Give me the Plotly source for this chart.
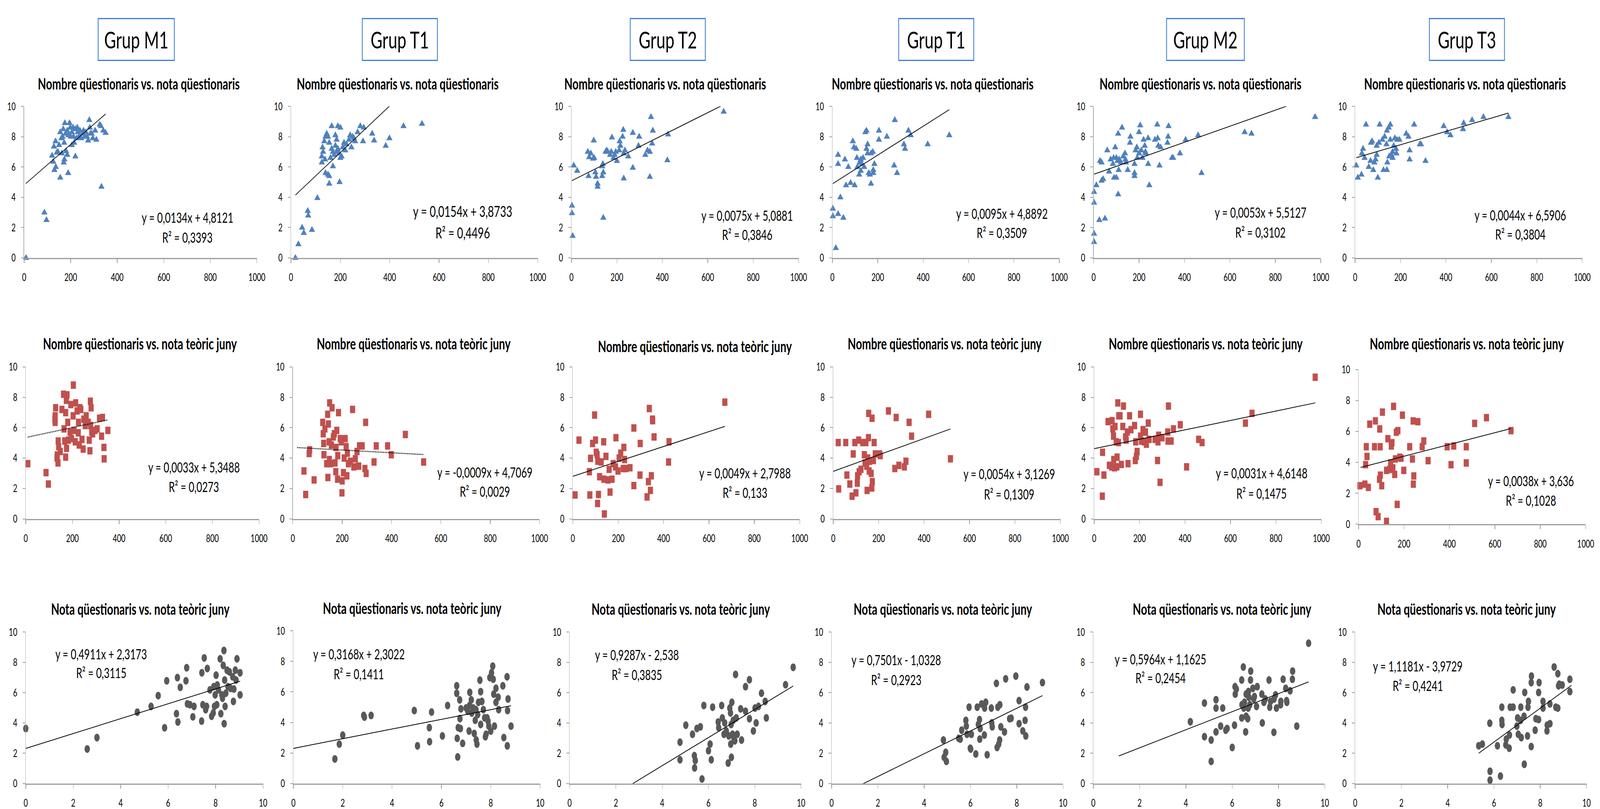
import plotly.graph_objects as go

W, H = 5927, 2070
FONT = "Lato, Roboto, sans-serif"

# ---------------- text data ----------------
groups = ["Grup M1", "Grup T1", "Grup T2", "Grup T1", "Grup M2", "Grup T3"]
row_titles = [
    "Nombre qüestionaris vs. nota qüestionaris",
    "Nombre qüestionaris vs. nota teòric juny",
    "Nota qüestionaris vs. nota teòric juny",
]
eq_r1 = ["y = 0,0134x + 4,8121", "y = 0,0154x + 3,8733", "y = 0,0075x + 5,0881",
         "y = 0,0095x + 4,8892", "y = 0,0053x + 5,5127", "y = 0,0044x + 6,5906"]
r2_r1 = ["0,3393", "0,4496", "0,3846", "0,3509", "0,3102", "0,3804"]
eq_r2 = ["y = 0,0033x + 5,3488", "y = -0,0009x + 4,7069", "y = 0,0049x + 2,7988",
         "y = 0,0054x + 3,1269", "y = 0,0031x + 4,6148", "y = 0,0038x + 3,636"]
r2_r2 = ["0,0273", "0,0029", "0,133", "0,1309", "0,1475", "0,1028"]
eq_r3 = ["y = 0,4911x + 2,3173", "y = 0,3168x + 2,3022", "y = 0,9287x - 2,538",
         "y = 0,7501x - 1,0328", "y = 0,5964x + 1,1625", "y = 1,1181x - 3,9729"]
r2_r3 = ["0,3115", "0,1411", "0,3835", "0,2923", "0,2454", "0,4241"]

# trendline coefficients (slope, intercept) and x extent
slope_r1 = [0.0134, 0.0154, 0.0075, 0.0095, 0.0053, 0.0044]
icpt_r1 = [4.8121, 3.8733, 5.0881, 4.8892, 5.5127, 6.5906]
slope_r2 = [0.0033, -0.0009, 0.0049, 0.0054, 0.0031, 0.0038]
icpt_r2 = [5.3488, 4.7069, 2.7988, 3.1269, 4.6148, 3.636]
slope_r3 = [0.4911, 0.3168, 0.9287, 0.7501, 0.5964, 1.1181]
icpt_r3 = [2.3173, 2.3022, -2.538, -1.0328, 1.1625, -3.9729]
tx_r1 = [(7, 350), (18, 531), (2, 670), (2, 515), (2, 975), (5, 675)]
tx_r2 = [(9, 352), (18, 531), (0, 670), (0, 516), (0, 973), (9, 671)]
tx_r3 = [(0, 9.03), (0, 8.82), (0, 9.66), (0, 9.11), (1.1, 9.3), (5.34, 9.35)]

# ---------------- point data ----------------
# Row 1: nombre qüestionaris (x) vs nota qüestionaris (y)
q_m1 = [(8,0),(87,3.0),(96,2.5),(332,4.7),(155,5.3),(189,5.6),(130,5.8),(136,6.0),(125,6.35),(120,6.75),
        (170,6.3),(173,6.5),(220,6.7),(185,6.8),(180,7.05),(140,6.95),(128,7.35),(135,7.7),(150,7.45),(155,8.3),
        (165,8.0),(175,8.9),(195,8.9),(210,8.6),(200,8.0),(205,7.45),(215,7.6),(230,8.3),(235,8.0),(240,8.4),
        (250,8.2),(260,8.0),(275,7.75),(280,9.1),(282,8.6),(290,8.2),(305,8.4),(310,7.8),(325,8.8),(330,8.7),
        (340,8.4),(350,8.25),(160,7.9),(168,8.5),(172,7.6),(178,8.2),(185,8.4),(190,8.1),(198,8.6),(205,8.3),
        (212,8.0),(220,8.5),(225,7.9),(228,8.6),(245,7.9),(255,8.4),(265,8.3),(270,8.0),(285,8.2),(295,7.9),
        (145,7.0),(162,6.9)]
q_t1 = [(18,0),(30,0.9),(45,2.0),(52,1.65),(85,1.85),(68,3.1),(70,2.8),(107,3.95),(155,4.9),(197,5.0),
        (140,5.6),(150,5.5),(155,5.4),(170,6.05),(125,6.3),(125,6.7),(130,7.0),(128,7.3),(135,7.7),(140,8.0),
        (145,8.2),(165,8.7),(190,8.7),(200,8.6),(155,7.6),(165,7.2),(170,7.0),(175,6.8),(180,7.4),(185,7.8),
        (190,7.2),(195,6.9),(200,6.6),(205,6.7),(210,7.3),(220,7.1),(225,7.5),(235,7.8),(240,8.1),(245,7.3),
        (255,7.9),(260,7.7),(270,8.3),(281,8.7),(295,8.6),(292,7.7),(329,8.2),(337,7.75),(384,7.4),(399,7.9),
        (456,8.7),(531,8.85),(150,8.0),(160,6.6),(185,7.0),(215,7.6),(250,8.0),(138,6.5),(180,8.1)]
q_t2 = [(2,3.45),(2,2.95),(5,1.45),(10,6.1),(25,5.75),(75,5.4),(72,7.0),(78,6.65),(85,6.9),(95,6.55),
        (100,6.6),(98,7.75),(105,5.65),(108,5.35),(115,4.9),(115,4.7),(135,5.4),(140,5.65),(135,6.05),(138,6.2),
        (150,7.0),(155,7.1),(160,7.0),(170,6.8),(175,7.0),(178,7.95),(185,6.6),(190,6.8),(195,7.0),(200,6.4),
        (210,7.1),(212,7.7),(215,7.4),(225,8.0),(228,8.45),(230,6.9),(235,7.1),(230,5.25),(250,6.7),(270,8.25),
        (270,5.95),(295,7.4),(298,8.0),(325,6.8),(335,7.1),(345,7.0),(345,5.35),(350,9.3),(355,7.55),(358,8.4),
        (425,8.15),(422,6.45),(140,2.65),(670,9.65)]
q_t1b = [(2,3.25),(2,2.75),(15,0.65),(25,2.9),(48,2.65),(35,4.0),(25,6.2),(25,6.8),(55,6.5),(60,4.8),
         (70,6.0),(80,4.95),(90,7.7),(95,7.3),(98,4.8),(105,7.2),(108,6.6),(110,6.0),(118,5.5),(120,6.3),
         (125,6.5),(125,5.75),(130,6.2),(135,6.6),(140,6.0),(145,8.3),(150,8.4),(150,7.2),(155,7.5),(155,6.9),
         (160,5.6),(165,5.5),(170,4.9),(170,6.9),(178,7.0),(185,6.2),(180,5.8),(180,5.6),(205,8.4),(205,7.8),
         (240,8.0),(275,9.1),(272,6.1),(285,5.6),(315,7.5),(320,7.2),(335,8.4),(345,8.1),(420,7.5),(515,8.1)]
q_m2 = [(2,1.05),(2,1.6),(2,3.65),(2,4.35),(12,4.8),(25,2.5),(50,2.6),(28,6.4),(35,6.3),(35,5.1),
        (42,5.2),(60,7.1),(68,5.7),(75,6.5),(85,6.2),(88,6.6),(95,7.3),(90,5.3),(100,5.3),(100,6.6),
        (105,6.4),(108,4.2),(108,8.2),(110,5.8),(112,6.5),(120,6.3),(125,8.6),(130,6.7),(138,6.9),(140,6.5),
        (142,6.3),(150,5.8),(160,7.6),(162,8.0),(180,6.2),(180,5.6),(180,5.4),(185,7.1),(190,7.3),(192,6.6),
        (200,6.9),(200,8.3),(205,8.75),(210,7.1),(215,6.6),(220,7.8),(225,7.4),(228,7.0),(230,6.9),(240,7.9),
        (240,6.2),(245,4.8),(270,7.8),(280,8.8),(282,7.9),(285,7.4),(295,7.3),(290,6.1),(325,7.6),(328,8.0),
        (330,8.7),(345,6.6),(350,6.6),(380,6.9),(405,7.8),(460,8.1),(475,5.6),(665,8.3),(695,8.2),(975,9.3)]
q_t3 = [(5,6.1),(12,5.3),(28,5.5),(30,6.9),(35,7.2),(42,6.6),(48,8.8),(60,6.0),(68,6.4),(70,7.6),
        (75,7.7),(80,5.8),(85,6.3),(90,6.5),(95,6.8),(95,7.4),(100,5.3),(105,7.6),(108,8.8),(120,7.8),
        (125,5.8),(130,8.0),(140,8.4),(138,7.5),(140,5.8),(142,6.3),(148,8.6),(150,6.7),(155,8.8),(155,7.8),
        (160,6.8),(165,7.0),(165,6.6),(170,7.4),(175,7.9),(180,7.2),(182,6.9),(185,7.8),(195,7.8),(225,8.2),
        (235,8.0),(240,7.1),(240,6.5),(260,8.8),(285,7.5),(290,7.5),(310,6.4),(390,8.7),(405,8.3),(420,8.1),
        (475,8.5),(478,8.9),(515,9.1),(565,9.3),(675,9.3)]

# Row 2: nombre qüestionaris (x) vs nota teòric juny (y)
t_m1 = [(9,3.63),(87,3.04),(97,2.29),(128,7.31),(126,6.78),(125,6.56),(126,6.35),(138,3.68),(135,4.2),(134,4.0),
        (141,4.75),(139,5.12),(148,4.43),(155,7.2),(162,8.2),(164,5.92),(167,5.12),(171,4.06),(171,6.99),(174,7.8),
        (175,4.64),(177,8.16),(180,6.35),(183,5.18),(190,5.71),(193,7.52),(196,5.28),(204,8.8),(203,6.78),(207,5.82),
        (212,5.07),(214,7.63),(220,7.1),(225,5.66),(226,6.35),(229,4.86),(232,7.31),(236,7.2),(241,5.23),(246,4.59),
        (249,6.56),(255,6.14),(259,6.78),(268,6.35),(272,5.18),(275,4.48),(277,7.74),(278,6.14),(280,7.31),(283,5.71),
        (287,5.6),(297,5.82),(306,5.92),(316,6.62),(325,5.44),(329,6.67),(335,4.7),(336,3.95),(352,5.82)]
t_t1 = [(45,3.15),(52,1.6),(68,4.54),(66,4.3),(86,2.56),(121,6.35),(123,5.6),(125,4.96),(126,4.22),(130,5.92),
        (137,3.63),(141,6.88),(142,2.72),(144,6.24),(147,5.07),(148,3.9),(149,7.63),(153,3.63),(156,4.86),(159,7.31),
        (164,5.39),(168,5.6),(171,3.68),(174,3.1),(175,4.7),(178,5.82),(181,2.61),(182,4.16),(185,6.99),(192,5.28),
        (196,5.07),(199,1.71),(200,2.5),(205,3.04),(208,4.0),(212,5.28),(216,4.75),(219,2.83),(221,4.32),(225,3.63),
        (233,3.79),(242,7.2),(247,3.42),(253,3.95),(260,4.43),(267,3.47),(270,4.8),(281,4.8),(292,3.31),(295,6.35),
        (297,2.99),(329,3.74),(338,4.8),(384,4.8),(399,4.22),(456,5.55),(530,3.74)]
t_t2 = [(10,1.57),(27,5.18),(73,3.1),(75,1.57),(78,3.98),(87,4.96),(96,6.83),(100,5.18),(103,4.38),(107,4.22),
        (109,1.01),(110,3.79),(113,1.6),(118,2.77),(125,3.74),(136,5.07),(137,2.61),(139,0.32),(146,4.11),(155,2.56),
        (160,3.26),(164,1.76),(173,2.61),(178,3.63),(188,3.42),(190,5.34),(199,3.15),(204,4.0),(211,4.32),(222,3.31),
        (225,4.7),(228,3.9),(234,3.31),(252,3.36),(269,5.98),(269,2.19),(296,2.88),(297,4.96),(327,1.44),(333,2.45),
        (337,7.26),(342,1.87),(346,2.83),(351,6.56),(352,6.46),(358,5.39),(422,3.74),(424,5.07),(670,7.68)]
t_t1b = [(22,5.02),(24,1.97),(55,5.02),(60,2.88),(73,2.29),(83,1.49),(88,4.27),(95,5.02),(100,1.71),(106,2.35),
         (107,2.83),(112,5.18),(114,3.1),(122,3.26),(130,5.02),(137,4.22),(140,3.68),(144,5.02),(147,3.47),(149,1.87),
         (152,4.0),(155,5.34),(156,6.94),(158,3.15),(160,3.79),(167,2.99),(170,2.03),(171,6.62),(172,2.45),(177,3.84),
         (180,5.02),(185,4.27),(204,4.27),(207,4.16),(243,7.1),(271,3.31),(277,6.67),(289,3.52),(313,3.42),(320,3.79),
         (334,6.35),(345,5.44),(420,6.88),(516,3.95)]
t_m2 = [(12,3.1),(36,1.49),(37,4.38),(43,2.88),(61,6.4),(67,3.52),(77,3.42),(79,6.46),(82,5.92),(85,5.44),
        (86,3.9),(89,3.36),(92,6.08),(97,5.07),(100,3.42),(101,4.06),(104,7.63),(107,5.02),(108,6.78),(114,6.78),
        (120,3.58),(126,6.08),(129,7.42),(138,5.39),(141,5.18),(146,5.71),(149,3.63),(156,6.78),(162,5.87),(178,6.14),
        (181,3.84),(186,4.11),(189,4.43),(183,5.07),(204,6.88),(204,5.44),(208,5.12),(215,5.87),(220,5.07),(226,5.71),
        (230,4.91),(238,6.3),(242,5.23),(268,5.23),(279,3.84),(281,5.07),(284,5.5),(290,2.4),(299,5.34),(324,5.71),
        (327,7.42),(325,5.12),(339,5.12),(349,5.92),(379,6.19),(407,3.42),(460,5.23),(475,5.02),(666,6.3),(695,6.94),
        (973,9.32)]
t_t3 = [(6,2.49),(28,2.59),(31,3.85),(34,5.01),(37,4.38),(43,2.38),(49,6.47),(70,5.01),(74,6.68),(77,0.81),
        (86,0.49),(93,6.16),(95,5.01),(92,2.91),(96,3.17),(102,2.49),(105,7.25),(123,0.18),(123,3.48),(129,5.53),
        (136,3.54),(141,3.96),(144,5.06),(147,5.27),(151,3.64),(154,7.62),(159,3.22),(162,4.22),(166,5.95),(170,1.28),
        (173,6.05),(181,4.33),(187,4.27),(193,7.05),(199,3.48),(225,5.01),(237,4.22),(240,6.68),(241,2.59),(243,3.12),
        (261,6.63),(280,5.01),(287,5.38),(306,4.11),(390,5.01),(407,3.85),(419,5.06),(474,5.01),(474,3.96),(511,6.52),
        (563,6.89),(671,6.05)]

# Row 3: nota qüestionaris (x) vs nota teòric juny (y)
n_m1 = [(0,3.63),(2.59,2.28),(3.0,3.03),(4.7,4.71),(5.28,5.09),(5.58,5.8),(5.85,3.68),(5.94,6.78),(6.35,4.61),(6.39,6.99),
        (6.41,4.06),(6.51,6.35),(6.75,6.78),(6.78,7.64),(6.81,5.26),(6.92,5.2),(7.04,4.4),(7.09,5.09),(7.41,4.12),(7.42,7.31),
        (7.46,5.2),(7.52,8.29),(7.58,4.87),(7.62,5.09),(7.65,7.59),(7.76,6.18),(7.83,4.44),(7.9,4.66),(7.92,6.39),(7.95,5.09),
        (7.98,5.85),(8.02,7.15),(8.05,5.2),(8.07,6.5),(8.12,6.18),(8.19,8.23),(8.22,4.61),(8.26,5.85),(8.29,5.63),(8.32,7.8),
        (8.35,8.78),(8.36,3.95),(8.38,6.83),(8.4,5.09),(8.43,5.96),(8.48,7.48),(8.52,6.39),(8.58,7.37),(8.63,6.28),(8.72,7.04),
        (8.75,5.42),(8.77,6.23),(8.83,7.48),(8.86,6.83),(8.9,8.23),(9.03,7.31),(9.03,5.85)]
n_t1 = [(1.68,1.61),(1.86,2.58),(2.0,3.17),(2.85,4.46),(2.88,4.35),(3.15,4.46),(4.9,4.78),(5.03,2.47),(5.51,3.66),(5.52,2.74),
        (5.6,4.68),(6.04,3.12),(6.25,5.11),(6.62,6.4),(6.62,5.91),(6.64,2.96),(6.66,1.74),(6.68,3.66),(6.74,5.48),(6.75,4.25),
        (6.77,3.6),(6.79,4.89),(6.86,2.63),(7.0,4.95),(7.07,4.73),(7.12,3.44),(7.14,5.11),(7.15,5.97),(7.21,5.48),(7.23,4.62),
        (7.29,4.95),(7.33,3.28),(7.37,4.14),(7.4,4.84),(7.41,2.85),(7.44,2.58),(7.47,4.52),(7.5,5.32),(7.56,6.77),(7.59,6.02),
        (7.59,3.87),(7.64,5.38),(7.7,4.84),(7.75,4.3),(7.78,3.06),(7.81,3.23),(7.85,4.3),(7.89,4.09),(7.92,3.76),(7.96,6.94),
        (8.0,3.44),(8.03,7.26),(8.08,7.69),(8.1,6.83),(8.12,5.86),(8.15,3.76),(8.21,6.24),(8.21,5.32),(8.3,5.65),(8.32,4.84),
        (8.49,6.4),(8.53,3.01),(8.66,6.99),(8.67,2.47),(8.68,4.78),(8.7,5.54),(8.82,3.76)]
n_t2 = [(4.77,2.73),(4.77,1.57),(5.02,3.85),(5.31,3.25),(5.4,1.03),(5.43,1.52),(5.39,1.84),(5.5,3.63),(5.65,3.74),(5.72,0.3),
        (5.8,5.15),(6.0,2.17),(6.07,2.6),(6.12,1.57),(6.18,5.04),(6.42,4.06),(6.44,3.68),(6.57,5.15),(6.6,4.33),(6.67,3.25),
        (6.7,4.0),(6.77,3.47),(6.85,1.35),(6.88,3.14),(6.92,4.98),(6.95,4.66),(6.96,2.6),(6.98,3.9),(6.99,1.73),(7.01,5.36),
        (7.04,3.25),(7.07,4.17),(7.1,2.98),(7.14,2.82),(7.17,7.2),(7.2,4.33),(7.24,3.25),(7.39,4.93),(7.43,2.87),(7.6,4.77),
        (7.6,6.39),(7.77,6.85),(7.77,4.28),(7.94,3.47),(8.01,4.98),(8.06,4.0),(8.16,5.09),(8.29,5.96),(8.45,5.42),(8.5,4.33),
        (9.33,6.52),(9.66,7.67)]
n_t1b = [(4.83,2.87),(4.86,1.73),(4.93,2.06),(4.96,1.46),(5.49,2.98),(5.56,2.93),(5.62,3.52),(5.8,4.17),(5.82,3.79),(5.85,3.25),
         (5.94,5.04),(5.99,2.33),(6.01,2.28),(6.04,3.25),(6.23,1.95),(6.29,5.04),(6.34,3.9),(6.39,4.22),(6.4,2.93),(6.42,3.63),
         (6.48,5.25),(6.6,3.2),(6.61,4.98),(6.66,5.36),(6.72,1.9),(6.9,4.98),(6.92,4.0),(6.94,3.74),(7.12,6.61),(7.15,2.38),
         (7.18,5.04),(7.22,2.6),(7.26,2.87),(7.27,5.2),(7.31,3.74),(7.47,3.41),(7.52,6.91),(7.69,4.28),(7.76,4.31),(7.96,7.09),
         (8.1,3.95),(8.1,5.47),(8.26,3.47),(8.36,4.17),(8.38,5.04),(8.39,3.14),(8.44,6.37),(9.11,6.66)]
n_m2 = [(4.19,4.08),(4.8,5.31),(4.8,3.09),(5.09,2.87),(5.09,1.46),(5.3,5.53),(5.3,4.98),(5.3,3.41),(5.5,3.79),(5.59,4.98),
        (5.72,3.52),(5.78,3.63),(6.0,2.38),(6.1,3.85),(6.12,6.39),(6.13,5.9),(6.18,6.23),(6.41,4.33),(6.41,6.83),(6.42,5.2),
        (6.48,7.69),(6.5,4.98),(6.53,5.36),(6.58,3.41),(6.6,4.44),(6.6,5.9),(6.67,4.28),(6.69,4.98),(6.7,6.07),(6.72,5.69),
        (6.76,5.2),(6.79,6.83),(6.8,7.42),(6.89,6.28),(6.93,5.58),(6.96,5.74),(7.05,5.09),(7.08,6.39),(7.28,5.9),(7.3,4.0),
        (7.37,5.36),(7.43,5.58),(7.59,6.83),(7.62,5.04),(7.66,5.42),(7.8,3.38),(7.81,5.58),(7.87,5.85),(7.91,4.98),(8.09,5.2),
        (8.1,5.42),(8.2,6.88),(8.31,6.28),(8.35,5.47),(8.36,5.36),(8.5,6.12),(8.6,6.88),(8.61,7.42),(8.79,3.79),(9.3,9.26)]
n_t3 = [(5.34,2.49),(5.5,2.6),(5.82,3.98),(5.83,0.81),(5.83,0.22),(6.15,2.49),(6.28,0.49),(6.34,5.04),(6.34,4.17),(6.35,3.9),
        (6.51,2.55),(6.53,2.93),(6.66,2.33),(6.67,3.2),(6.7,5.04),(6.83,6.18),(6.83,5.04),(6.99,3.79),(7.02,4.33),(7.05,3.25),
        (7.15,4.17),(7.16,5.04),(7.18,3.03),(7.3,4.44),(7.31,1.27),(7.33,6.01),(7.45,3.14),(7.47,5.04),(7.49,5.42),(7.61,2.44),
        (7.61,6.66),(7.62,7.09),(7.78,3.52),(7.81,4.28),(7.93,4.22),(7.93,6.01),(7.95,6.66),(8.12,5.42),(8.12,4.98),(8.29,3.47),
        (8.3,3.85),(8.42,3.95),(8.42,5.25),(8.6,7.69),(8.67,5.04),(8.76,7.25),(8.76,4.98),(8.79,6.45),(8.82,6.55),(8.95,6.5),
        (9.28,6.88),(9.28,6.07)]

row1_pts = [q_m1, q_t1, q_t2, q_t1b, q_m2, q_t3]
row2_pts = [t_m1, t_t1, t_t2, t_t1b, t_m2, t_t3]
row3_pts = [n_m1, n_t1, n_t2, n_t1b, n_m2, n_t3]

# ---------------- geometry (pixels) ----------------
geom = [
    [(82, 950, 259, 654), (1077, 1997, 259, 654), (2123, 2970, 259, 654),
     (3096, 3942, 259, 654), (4070, 4917, 259, 654), (5045, 5892, 259, 654)],
    [(88, 958, 938, 1334), (1084, 2004, 938, 1334), (2128, 2974, 938, 1334),
     (3099, 3946, 938, 1334), (4072, 4919, 938, 1334), (5058, 5905, 945, 1348)],
    [(88, 973, 1629, 2024), (1086, 2006, 1626, 2024), (2116, 2979, 1629, 2024),
     (3093, 3956, 1629, 2024), (4069, 4932, 1629, 2024), (5045, 5908, 1629, 2024)],
]
eq_pos = [
    [(691, 548, 600), (1717, 532, 588), (2778, 543, 593), (3728, 538, 588), (4692, 535, 587), (5661, 542, 592)],
    [(715, 1199, 1250), (1800, 1212, 1262), (2770, 1214, 1265), (3755, 1216, 1269), (4696, 1214, 1267), (5701, 1235, 1286)],
    [(369, 1686, 1735), (1330, 1686, 1738), (2367, 1688, 1740), (3334, 1701, 1753), (4319, 1699, 1748), (5279, 1718, 1768)],
]
title_pos = [
    [(509, 200), (1475, 200), (2472, 200), (3470, 200), (4468, 200), (5455, 200)],
    [(514, 877), (1535, 877), (2584, 884), (3515, 877), (4488, 877), (5461, 877)],
    [(515, 1569), (1529, 1567), (2531, 1569), (3508, 1569), (4549, 1569), (5461, 1569)],
]
header_pos = [(500, 85), (1483, 85), (2482, 85), (3483, 85), (4487, 85), (5462, 85)]
header_w = [284, 280, 280, 280, 290, 280]
HEAD_TOP, HEAD_BOT = 30, 139

row_style = [
    dict(symbol="triangle-up", color="#4F81BD", size=20),
    dict(symbol="square", color="#C0504D", size=19),
    dict(symbol="circle", color="#595959", size=20),
]
row_xr = [[0, 1000], [0, 1000], [0, 10]]
row_xtick = [200, 200, 2]
eqs = [eq_r1, eq_r2, eq_r3]
r2s = [r2_r1, r2_r2, r2_r3]
slopes = [slope_r1, slope_r2, slope_r3]
icpts = [icpt_r1, icpt_r2, icpt_r3]
txs = [tx_r1, tx_r2, tx_r3]
pts = [row1_pts, row2_pts, row3_pts]


def px(x):
    return x / W


def py(y):
    return 1 - y / H


fig = go.Figure()
layout = dict(
    width=W, height=H, margin=dict(l=0, r=0, t=0, b=0),
    paper_bgcolor="white", plot_bgcolor="white", showlegend=False,
    font=dict(family=FONT, color="black"),
)
annotations = []
shapes = []

k = 0
for r in range(3):
    for c in range(6):
        k += 1
        xa = "x" if k == 1 else f"x{k}"
        ya = "y" if k == 1 else f"y{k}"
        xkey = "xaxis" if k == 1 else f"xaxis{k}"
        ykey = "yaxis" if k == 1 else f"yaxis{k}"
        x0, x1, yt, yb = geom[r][c]
        layout[xkey] = dict(
            domain=[px(x0), px(x1)], anchor=ya, range=row_xr[r], dtick=row_xtick[r], tick0=0,
            showgrid=False, zeroline=False, showline=True, linecolor="#9C9C9C", linewidth=3,
            ticks="outside", ticklen=10, tickwidth=2, tickcolor="#9C9C9C",
            tickfont=dict(family=FONT, size=27, color="black"), ticklabelstandoff=14,
            fixedrange=True,
        )
        layout[ykey] = dict(
            domain=[py(yb), py(yt)], anchor=xa, range=[0, 10], dtick=2, tick0=0,
            showgrid=False, zeroline=False, showline=True, linecolor="#B0B0B0", linewidth=2,
            ticks="outside", ticklen=10, tickwidth=2, tickcolor="#9C9C9C",
            tickfont=dict(family=FONT, size=27, color="black"), ticklabelstandoff=14,
            fixedrange=True,
        )
        data = pts[r][c]
        st = row_style[r]
        fig.add_trace(go.Scatter(
            x=[p[0] for p in data], y=[p[1] for p in data], mode="markers",
            marker=dict(symbol=st["symbol"], color=st["color"], size=st["size"], line=dict(width=0)),
            cliponaxis=False, xaxis=xa, yaxis=ya, hoverinfo="skip",
        ))
        ta, tb = txs[r][c]
        m, b = slopes[r][c], icpts[r][c]
        dotted = (r == 1 and c in (0, 1))
        fig.add_trace(go.Scatter(
            x=[ta, tb], y=[m * ta + b, m * tb + b], mode="lines",
            line=dict(color="black", width=3 if dotted else 2, dash="dot" if dotted else "solid"),
            xaxis=xa, yaxis=ya, hoverinfo="skip",
        ))
        cx, ey, ry = eq_pos[r][c]
        fs = 39 if (r == 0 and c == 1) else 36
        annotations.append(dict(x=px(cx), y=py(ey), xref="paper", yref="paper", text=eqs[r][c],
                                showarrow=False, xanchor="center", yanchor="middle",
                                font=dict(family=FONT, size=fs, color="black")))
        annotations.append(dict(x=px(cx), y=py(ry), xref="paper", yref="paper",
                                text="R² = " + r2s[r][c],
                                showarrow=False, xanchor="center", yanchor="middle",
                                font=dict(family=FONT, size=fs, color="black")))
        tx, ty = title_pos[r][c]
        annotations.append(dict(x=px(tx), y=py(ty), xref="paper", yref="paper",
                                text=row_titles[r], showarrow=False,
                                xanchor="center", yanchor="middle",
                                font=dict(family=FONT, size=40, color="black", weight=700)))

for g, (hx, hy), hw in zip(groups, header_pos, header_w):
    shapes.append(dict(type="rect", xref="paper", yref="paper",
                       x0=px(hx - hw / 2), x1=px(hx + hw / 2), y0=py(HEAD_BOT), y1=py(HEAD_TOP),
                       line=dict(color="#3B7DD8", width=3), fillcolor="rgba(0,0,0,0)"))
    annotations.append(dict(x=px(hx), y=py(hy), xref="paper", yref="paper", text=g,
                            showarrow=False, xanchor="center", yanchor="middle",
                            font=dict(family=FONT, size=60, color="black")))

layout["annotations"] = annotations
layout["shapes"] = shapes
fig.update_layout(**layout)

# Fit the fixed 5927x2070 figure exactly onto whatever CSS viewport the browser reports
post_js = """
(function(){
  var gd = document.getElementById('{plot_id}');
  document.documentElement.style.margin = '0';
  document.body.style.margin = '0';
  document.body.style.padding = '0';
  var vw = window.innerWidth, vh = window.innerHeight;
  var sx = vw / %d, sy = vh / %d;
  var p = gd.parentElement;
  p.style.margin = '0';
  if (Math.abs(sx - 1) > 0.002 || Math.abs(sy - 1) > 0.002) {
    document.documentElement.style.overflow = 'hidden';
    document.body.style.overflow = 'hidden';
    p.style.width = vw + 'px';
    p.style.height = vh + 'px';
    p.style.overflow = 'hidden';
    gd.style.transformOrigin = '0 0';
    gd.style.transform = 'scale(' + sx + ',' + sy + ')';
  }
})();
""" % (W, H)

fig.write_html("out.html", post_script=post_js,
               config={"displayModeBar": False, "staticPlot": True})
